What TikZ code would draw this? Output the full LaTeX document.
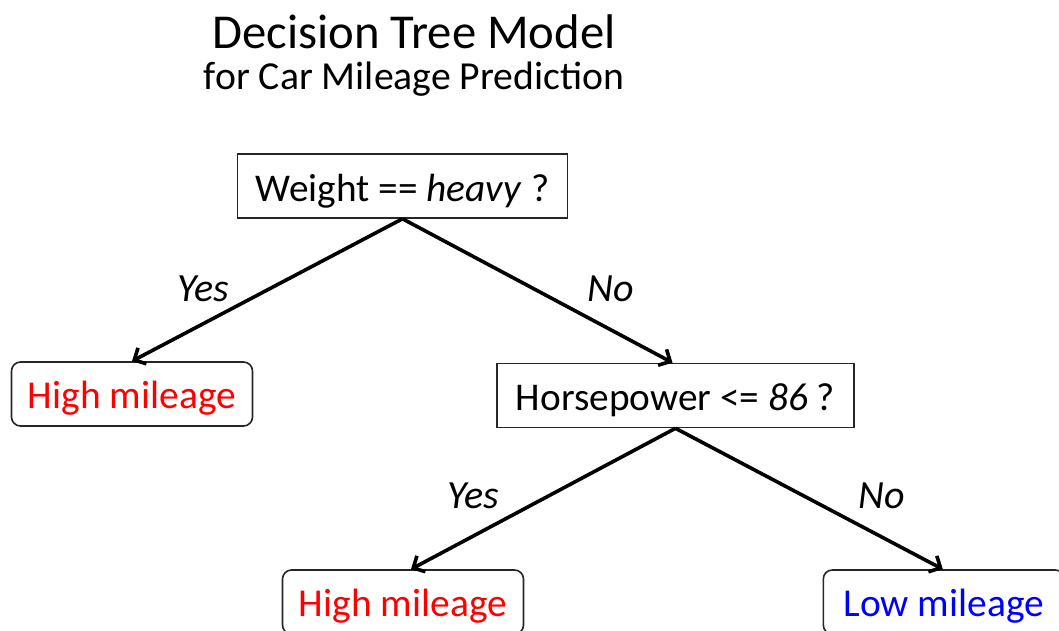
\documentclass[tikz,border=0pt]{standalone}
\usepackage{fontspec}
\setmainfont{Carlito}
\usetikzlibrary{arrows.meta}
\tikzset{
  qbox/.style={draw=black!85, line width=1.6pt, inner sep=0pt, minimum height=64pt, text height=35pt, text depth=5pt, font=\fontsize{39.3}{41}\selectfont},
  leaf/.style={draw=black!85, line width=1.6pt, rounded corners=9pt, inner sep=0pt, minimum height=64pt, minimum width=241pt, text height=34pt, text depth=6pt, font=\fontsize{39.5}{41}\selectfont},
  edge/.style={line width=3.6pt, -{Straight Barb[length=9pt,width=18pt,line width=3.6pt]}},
  elabel/.style={font=\fontsize{40}{42}\selectfont\itshape}
}
\begin{document}
\begin{tikzpicture}[x=1pt,y=-1pt]
\useasboundingbox (0,0) rectangle (1059,631);
\clip (0,0) rectangle (1059,631);
\fill[white] (0,0) rectangle (1059,631);
\node[font=\fontsize{48.7}{50}\selectfont] (title) at (414,32) {Decision Tree Model};
\node[font=\fontsize{39.7}{42}\selectfont] (subtitle) at (414,79) {for Car Mileage Prediction};
\node[qbox, minimum width=330pt] (root) at (402.5,186) {Weight == \textit{heavy} ?};
\node[qbox, minimum width=357pt] (hp) at (675.5,395.5) {Horsepower <= \textit{86} ?};
\node[leaf, text=red] (l1) at (132,394) {High mileage};
\node[leaf, text=red] (l2) at (403,602) {High mileage};
\node[leaf, text=blue, anchor=west] (l3) at (822.5,602) {Low mileage};
\draw[edge] (root.south) -- (l1.north);
\draw[edge] (root.south) -- ([xshift=-3pt]hp.north);
\draw[edge] (hp.south) -- ([xshift=8pt]l2.north);
\draw[edge] (hp.south) -- ([xshift=-1pt]l3.north);
\node[elabel] (y1) at (203,289) {Yes};
\node[elabel] (n1) at (611,289) {No};
\node[elabel] (y2) at (473,496) {Yes};
\node[elabel] (n2) at (882,496) {No};
\end{tikzpicture}
\end{document}
